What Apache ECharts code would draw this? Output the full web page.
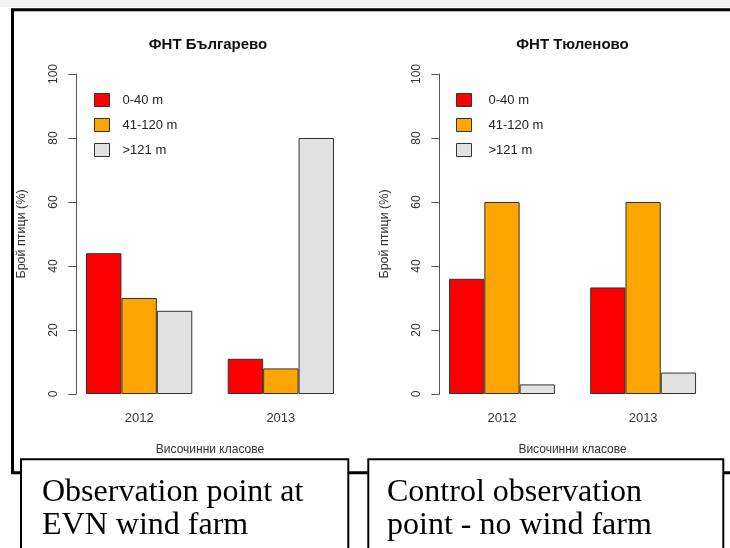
<!DOCTYPE html>
<html>
<head>
<meta charset="utf-8">
<script src="https://cdn.jsdelivr.net/npm/echarts@6/dist/echarts.min.js"></script>
<style>
html,body{margin:0;padding:0;background:#fff;}
#chart{width:730px;height:548px;}
</style>
</head>
<body>
<div id="chart"></div>
<script>
// ---- data ----
const years = ['2012', '2013'];
const heightClasses = ['0-40 m', '41-120 m', '>121 m'];
const classColors = ['#FF0000', '#FFA500', '#E2E2E2'];
const titles = ['ФНТ Българево', 'ФНТ Тюленово'];
const yAxisName = 'Брой птици (%)';
const xAxisName = 'Височинни класове';
const yTicks = { min: 0, max: 100, interval: 20 };
// percentages per height class, by year [2012, 2013]
const bulgarevo = {
  low: [44, 11],
  mid: [30, 8],
  high: [26, 80]
};
const tyulenovo = {
  low: [36, 33.3],
  mid: [60, 60],
  high: [3, 6.7]
};
const captions = ['Observation point at\nEVN wind farm', 'Control observation\npoint - no wind farm'];

// ---- layout ----
const FONT = '"Liberation Sans", Arial, sans-serif';
const grids = [
  { left: 68.3, top: 74, width: 283.4, height: 320 },
  { left: 431.4, top: 74, width: 282.3, height: 320 }
];
const titleCenters = [208, 572.5];
const legendLefts = [94, 456];
const legendTextPad = [8, 12];

function makeXAxis(i) {
  return {
    type: 'category', gridIndex: i, data: years,
    axisLine: { show: false }, axisTick: { show: false },
    axisLabel: { color: '#333', fontFamily: FONT, fontSize: 13, margin: 18 },
    name: xAxisName, nameLocation: 'middle', nameGap: 50,
    nameTextStyle: { color: '#333', fontFamily: FONT, fontSize: 12 }
  };
}
function makeYAxis(i) {
  return {
    type: 'value', gridIndex: i, min: yTicks.min, max: yTicks.max, interval: yTicks.interval,
    offset: -8,
    splitLine: { show: false },
    axisLine: { show: true, lineStyle: { color: '#555', width: 1 } },
    axisTick: { show: true, length: 8, lineStyle: { color: '#555' } },
    axisLabel: { rotate: 90, color: '#333', fontFamily: FONT, fontSize: 12, margin: 17 },
    name: yAxisName, nameLocation: 'middle', nameRotate: 90, nameGap: 48,
    nameTextStyle: { color: '#333', fontFamily: FONT, fontSize: 12.5 }
  };
}
function makeSeries(i, d) {
  const vals = [d.low, d.mid, d.high];
  return heightClasses.map((name, k) => ({
    type: 'bar', name: name, xAxisIndex: i, yAxisIndex: i,
    data: vals[k], barGap: '0%', barCategoryGap: '25%',
    itemStyle: { color: classColors[k], borderColor: '#333', borderWidth: 1 },
    emphasis: { disabled: true }, silent: true
  }));
}

const chart = echarts.init(document.getElementById('chart'), null, { renderer: 'canvas' });
chart.setOption({
  animation: false,
  backgroundColor: '#fff',
  title: titles.map((t, i) => ({
    text: t, left: titleCenters[i], top: 37, textAlign: 'center', padding: 0,
    textStyle: { fontFamily: FONT, fontSize: 15, fontWeight: 'bold', color: '#111' }
  })),
  legend: legendLefts.map((l, i) => ({
    data: heightClasses, orient: 'vertical', left: l, top: 93, padding: 0,
    itemWidth: 15, itemHeight: 13, itemGap: 11, icon: 'rect',
    selectedMode: false,
    itemStyle: { borderColor: '#333', borderWidth: 1 },
    textStyle: { fontFamily: FONT, fontSize: 13, color: '#222', padding: [0, 0, 0, legendTextPad[i]], lineHeight: 13 }
  })),
  grid: grids,
  xAxis: [makeXAxis(0), makeXAxis(1)],
  yAxis: [makeYAxis(0), makeYAxis(1)],
  series: makeSeries(0, bulgarevo).concat(makeSeries(1, tyulenovo)),
  graphic: [
    { type: 'rect', z: -10, silent: true, shape: { x: 0, y: 0, width: 730, height: 7 }, style: { fill: '#f2f2f2' } },
    { type: 'rect', z: 50, silent: true, shape: { x: 12.5, y: 9.7, width: 740, height: 463 }, style: { fill: null, stroke: '#000', lineWidth: 3 } },
    { type: 'rect', z: 60, silent: true, shape: { x: 21, y: 459.2, width: 327.3, height: 120 }, style: { fill: '#fff', stroke: '#000', lineWidth: 2 } },
    { type: 'rect', z: 60, silent: true, shape: { x: 368.3, y: 459.2, width: 355, height: 120 }, style: { fill: '#fff', stroke: '#000', lineWidth: 2 } },
    { type: 'text', z: 70, silent: true, x: 42, y: 476, style: { text: captions[0], font: '32px "Liberation Serif", "Times New Roman", serif', fill: '#000', lineHeight: 33, verticalAlign: 'top' } },
    { type: 'text', z: 70, silent: true, x: 387, y: 476, style: { text: captions[1], font: '32px "Liberation Serif", "Times New Roman", serif', fill: '#000', lineHeight: 33, verticalAlign: 'top' } }
  ]
});
</script>
</body>
</html>
